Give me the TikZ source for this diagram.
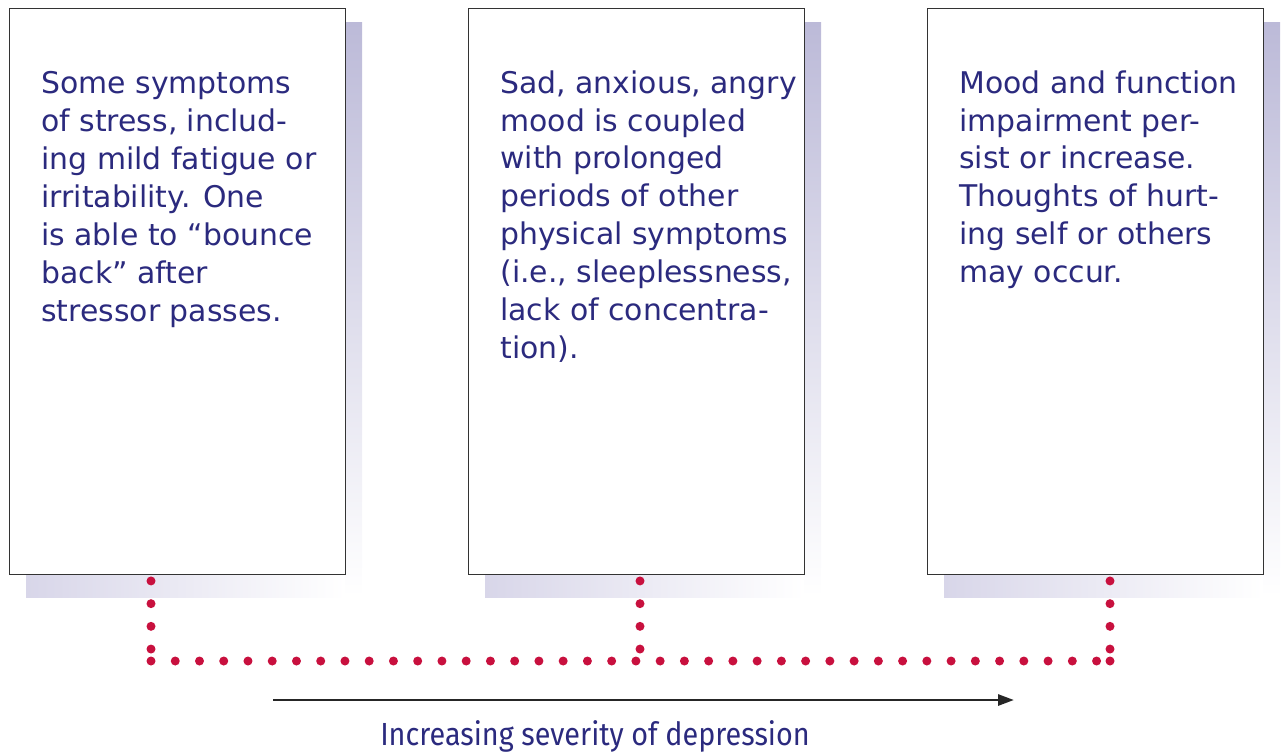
\documentclass[tikz,border=0pt]{standalone}
\usepackage{fontspec}
\setmainfont{DejaVu Sans}
\newfontfamily\axisfont[FakeStretch=0.9]{Fira Sans}
\usetikzlibrary{arrows.meta,calc}

\definecolor{inkblue}{HTML}{2B2A7E}
\definecolor{dotred}{HTML}{C8103E}
\definecolor{shadowtop}{HTML}{BCBAD8}
\definecolor{shadowleft}{HTML}{D8D6E9}

\tikzset{
  stagebox/.style={draw=black!80, line width=0.6pt, fill=white, anchor=north west,
    minimum width=6.72cm, minimum height=11.32cm, inner sep=0pt},
  stagetext/.style={anchor=north west, align=left, inner sep=0pt, text=inkblue,
    font=\fontsize{17}{21.6}\selectfont},
  dotline/.style={dotred, line width=0.18cm, line cap=round},
  hdots/.style={dotline, dash pattern=on 0pt off 0.485cm},
  vdots/.style={dotline, dash pattern=on 0pt off 0.454cm},
}

\begin{document}
\begin{tikzpicture}[x=0.02cm,y=-0.02cm]
\useasboundingbox (0,0) rectangle (1281,752);

% Shadows
\foreach \x in {9,468,927}{
  \shade[top color=shadowtop, middle color=shadowtop!40, bottom color=white]
    (\x+336,22) rectangle (\x+353,597);
  \shade[left color=shadowleft, middle color=shadowleft!30, right color=white]
    (\x+17,574) rectangle (\x+336,597);
}

% Boxes
\node[stagebox] (s1) at (9,8) {};
\node[stagebox] (s2) at (468,8) {};
\node[stagebox] (s3) at (927,8) {};

% Box texts
\node[stagetext] (t1) at (41,71) {Some symptoms\\of stress, includ-\\ing mild fatigue or\\irritability. One\\is able to “bounce\\back” after\\stressor passes.};
\node[stagetext] (t2) at (500,70) {Sad, anxious, angry\\mood is coupled\\with prolonged\\periods of other\\physical symptoms\\(i.e., sleeplessness,\\lack of concentra-\\tion).};
\node[stagetext] (t3) at (959,70) {Mood and function\\impairment per-\\sist or increase.\\Thoughts of hurt-\\ing self or others\\may occur.};

% Dotted connectors
\coordinate (j1) at (151,661);
\coordinate (j2) at (640,661);
\coordinate (j3) at (1110,661);
\draw[vdots] ($(s1.south -| j1)+(0,6)$) -- ($(j1)+(0,-11)$);
\draw[vdots] ($(s2.south -| j2)+(0,6)$) -- ($(j2)+(0,-11)$);
\draw[vdots] ($(s3.south -| j3)+(0,6)$) -- ($(j3)+(0,-11)$);
\draw[hdots] (j1) -- (j3);
\fill[dotred] (j3) circle (4.5);

% Severity arrow
\coordinate (a0) at (273,700);
\coordinate (a1) at (1014,700);
\draw[line width=1.6pt, black!85, -{Triangle[length=0.32cm, width=0.22cm]}] (a0) -- (a1);
\node[anchor=base, text=inkblue, font=\axisfont\fontsize{18.2}{20}\selectfont] (lbl) at (595,745) {Increasing severity of depression};
\end{tikzpicture}
\end{document}
